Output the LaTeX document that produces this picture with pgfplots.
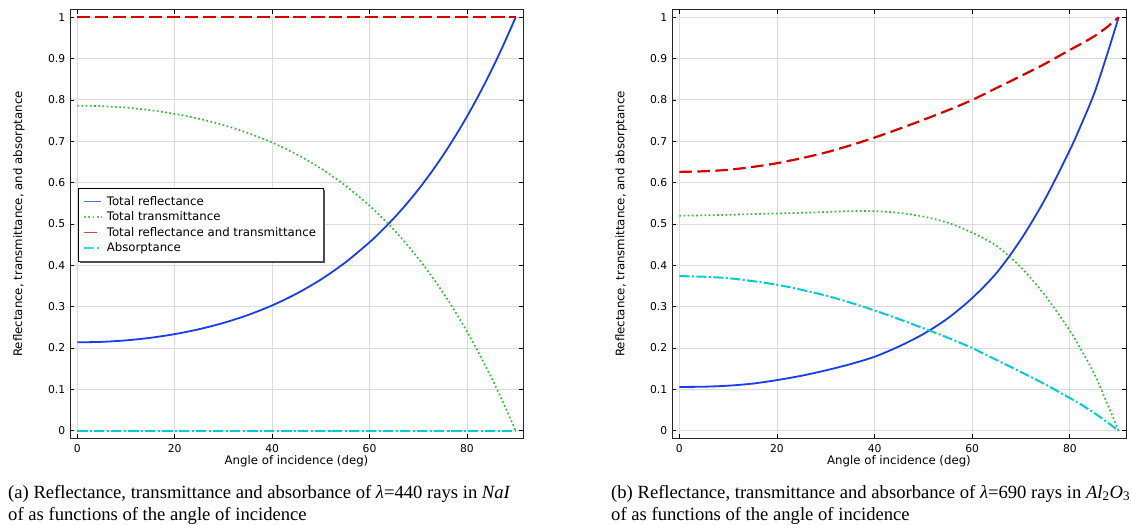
\documentclass[border=0pt]{standalone}
\usepackage{fontspec}
\setmainfont{Liberation Serif}
\newfontfamily\dejavu{DejaVu Sans}
\usepackage{pgfplots}
\usepackage{pgfplotstable}
\pgfplotsset{compat=1.18}
\definecolor{cR}{RGB}{25,60,245}
\definecolor{cT}{RGB}{50,190,50}
\definecolor{cS}{RGB}{215,0,0}
\definecolor{cA}{RGB}{0,205,210}

% NaI, lambda = 440
\pgfplotstableread{
x R T S A
0 0.2138 0.7862 1 0
5 0.2150 0.7850 1 0
10 0.2186 0.7814 1 0
15 0.2248 0.7752 1 0
20 0.2337 0.7663 1 0
25 0.2456 0.7544 1 0
30 0.2608 0.7392 1 0
35 0.2798 0.7202 1 0
40 0.3031 0.6969 1 0
45 0.3315 0.6685 1 0
50 0.3657 0.6343 1 0
55 0.4068 0.5932 1 0
60 0.4559 0.5441 1 0
62.5 0.4838 0.5162 1 0
65 0.5142 0.4858 1 0
67.5 0.5472 0.4528 1 0
70 0.5832 0.4168 1 0
72.5 0.6223 0.3777 1 0
75 0.6646 0.3354 1 0
77.5 0.7105 0.2895 1 0
80 0.7600 0.2400 1 0
82.5 0.8136 0.1864 1 0
85 0.8713 0.1287 1 0
87.5 0.9334 0.0666 1 0
90 1.0000 0.0000 1 0
}\tabA

% Al2O3, lambda = 690
\pgfplotstableread{
x R T S A
0 0.106 0.520 0.626 0.374
5 0.1065 0.521 0.6275 0.3725
10 0.109 0.522 0.631 0.369
15 0.114 0.524 0.638 0.362
20 0.1225 0.5255 0.647 0.353
25 0.133 0.527 0.659 0.341
30 0.146 0.529 0.673 0.327
35 0.161 0.531 0.690 0.310
40 0.179 0.531 0.709 0.291
45 0.204 0.527 0.730 0.270
50 0.234 0.518 0.752 0.248
55 0.272 0.503 0.775 0.225
60 0.321 0.479 0.800 0.200
65 0.382 0.447 0.829 0.171
70 0.463 0.395 0.858 0.142
75 0.562 0.326 0.888 0.112
80 0.679 0.242 0.921 0.079
82.5 0.745 0.192 0.937 0.062
85 0.816 0.138 0.954 0.043
87.5 0.905 0.070 0.975 0.022
90 1.0 0.0 1.0 0.0
}\tabB

\pgfplotsset{
  myaxis/.style={
    scale only axis, height=428bp,
    xmin=-1.5, xmax=91.5, ymin=-0.0175, ymax=1.0175,
    xtick={0,20,40,60,80},
    ytick={0,0.1,0.2,0.3,0.4,0.5,0.6,0.7,0.8,0.9,1},
    grid=major, major grid style={draw=black!14, line width=0.9bp},
    tick align=inside, major tick length=4bp,
    tick style={black, line width=0.8bp},
    axis line style={black!85, line width=1bp},
    /pgf/number format/assume math mode=true,
    tick label style={font=\dejavu\fontsize{10.8}{13}\selectfont},
    yticklabel style={xshift=-1.3bp},
    xticklabel style={yshift=-3bp},
    label style={font=\dejavu\fontsize{11.8}{14}\selectfont},
    xlabel={Angle of incidence (deg)},
    ylabel={Reflectance, transmittance, and absorptance},
    xlabel style={at={(axis description cs:0.5,0)}, anchor=north, inner sep=0pt, yshift=-17bp},
    ylabel style={anchor=center, inner sep=0pt},
  },
  pR/.style={cR, line width=1.8bp, smooth},
  pT/.style={cT, line width=1.7bp, dash pattern=on 1.7bp off 2.5bp, smooth},
  pS/.style={cS, line width=2.2bp, dash pattern=on 12.5bp off 5.5bp, smooth},
  pA/.style={cA, line width=2bp, dash pattern=on 10bp off 2.5bp on 2bp off 2.5bp, smooth},
}

\begin{document}
\begin{tikzpicture}
\path[use as bounding box] (0,0) rectangle (1131bp,525bp);

\begin{axis}[myaxis, at={(70bp,87bp)}, anchor=south west, width=453bp,
  ylabel style={at={(axis description cs:-0.1126,0.5)}},
  legend style={at={(axis description cs:0.0177,0.584)}, anchor=north west,
    name=leg, draw=black, line width=0.8bp, fill=white,
    font=\dejavu\fontsize{11.8}{14}\selectfont,
    inner xsep=5bp, inner ysep=6bp, row sep=1bp,
    /tikz/every odd column/.append style={column sep=3bp}},
  legend image post style={line width=1.4bp, opacity=0.75},
  legend cell align=left]
\addplot[pR] table[x=x,y=R]{\tabA};
\addlegendentry{Total reflectance}
\addplot[pT] table[x=x,y=T]{\tabA};
\addlegendentry{Total transmittance}
\addplot[pS] table[x=x,y=S]{\tabA};
\addlegendentry{Total reflectance and transmittance}
\addplot[pA] table[x=x,y=A]{\tabA};
\addlegendentry{Absorptance}
\end{axis}
% legend shadow (right and bottom edges)
\fill[black!70] ([yshift=-2bp]leg.north east) rectangle ([xshift=2bp,yshift=-2bp]leg.south east);
\fill[black!70] ([xshift=2bp]leg.south west) rectangle ([xshift=2bp,yshift=-2bp]leg.south east);

\begin{axis}[myaxis, at={(672bp,87bp)}, anchor=south west, width=454bp,
  ylabel style={at={(axis description cs:-0.1123,0.5)}}]
\addplot[pR] table[x=x,y=R]{\tabB};
\addplot[pT] table[x=x,y=T]{\tabB};
\addplot[pS] table[x=x,y=S]{\tabB};
\addplot[pA] table[x=x,y=A]{\tabB};
\end{axis}

\begin{scope}[every node/.style={inner sep=0pt, anchor=base west, font=\fontsize{18.7}{22}\selectfont}]
\node at (8bp,27bp) {(a) Reflectance, transmittance and absorbance of \textit{λ}=440 rays in \textit{NaI}};
\node at (8bp,5bp) {of as functions of the angle of incidence};
\node at (611bp,27bp) {(b) Reflectance, transmittance and absorbance of \textit{λ}=690 rays in \textit{Al}\textsubscript{2}\textit{O}\textsubscript{3}};
\node at (611bp,5bp) {of as functions of the angle of incidence};
\end{scope}
\end{tikzpicture}
\end{document}
